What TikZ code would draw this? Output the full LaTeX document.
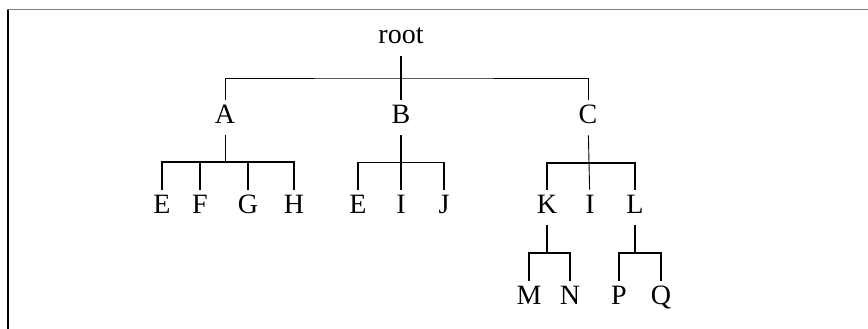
\documentclass[tikz,border=0pt]{standalone}
\usepackage{fontspec}
\setmainfont{Liberation Serif}
\usepackage{xcolor}
\usepackage{tikz}
\usetikzlibrary{calc}

\begin{document}
\begin{tikzpicture}[x=1pt,y=-1pt,line width=0.8pt,
    lab/.style={anchor=base,inner xsep=0pt,inner ysep=6pt,text height=17pt,text depth=6pt,font=\fontsize{28}{33}\selectfont},
    thinline/.style={line width=0.9pt},
    thickline/.style={line width=1.6pt}]
    \useasboundingbox (0,0) rectangle (868,329);
    % frame
    \draw[gray,line width=1.5pt] (7,9.5) -- (868,9.5);
    \draw[line width=1.2pt] (8,10) -- (8,329);
    % nodes
    \node[lab] (root) at (401,44) {root};
    \node[lab] (A) at (225,123) {A};
    \node[lab] (B) at (401,123) {B};
    \node[lab] (C) at (588,123) {C};
    \node[lab] (E1) at (162,213) {E};
    \node[lab] (F) at (200,213) {F};
    \node[lab] (G) at (248,213) {G};
    \node[lab] (H) at (294,213) {H};
    \node[lab] (E2) at (358,213) {E};
    \node[lab] (I1) at (401,213) {I};
    \node[lab] (J) at (444,213) {J};
    \node[lab] (K) at (547,213) {K};
    \node[lab] (I2) at (590,213) {I};
    \node[lab] (L) at (635,213) {L};
    \node[lab] (M) at (529,304) {M};
    \node[lab] (N) at (570,304) {N};
    \node[lab] (P) at (619,304) {P};
    \node[lab] (Q) at (661,304) {Q};
    % bars
    \coordinate (rbar) at (401,78);
    \coordinate (abar) at (225,162);
    \coordinate (bbar) at (401,162);
    \coordinate (cbar) at (588,163);
    \coordinate (kbar) at (547,253);
    \coordinate (lbar) at (635,253);
    % root
    \draw[thickline] (root) -- (B);
    \draw[thinline] (A.north) |- (rbar) -| (C.north);
    % A
    \draw[thinline] (A) -- (abar);
    \draw[thickline] (E1.north) |- (abar) -| (H.north);
    \draw[thickline] (F.north) -- (F.north |- abar);
    \draw[thickline] (G.north) -- (G.north |- abar);
    % B
    \draw[thickline] (B) -- (I1);
    \draw[thinline] (E2.north |- bbar) -- (J.north |- bbar);
    \draw[thickline] (E2.north) -- (E2.north |- bbar);
    \draw[thickline] (J.north) -- (J.north |- bbar);
    % C
    \draw[thinline] (C) -- (I2);
    \draw[thickline] (K.north) |- (cbar) -| (L.north);
    % K and L
    \draw[thickline] (K) -- (kbar);
    \draw[thickline] (M.north) |- (kbar) -| (N.north);
    \draw[thickline] (L) -- (lbar);
    \draw[thickline] (P.north) |- (lbar) -| (Q.north);
\end{tikzpicture}
\end{document}
